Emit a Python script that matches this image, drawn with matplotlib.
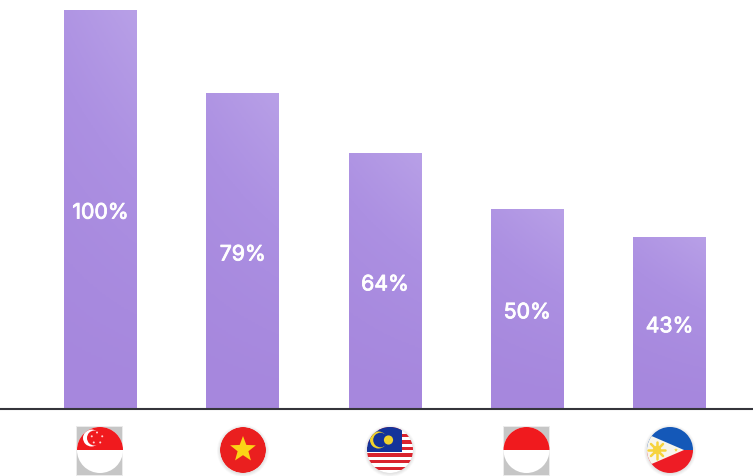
import matplotlib
matplotlib.use("Agg")
import matplotlib.pyplot as plt
import matplotlib.patheffects as pe
from matplotlib.colors import LinearSegmentedColormap
from matplotlib.patches import Circle, Polygon, Rectangle
import numpy as np

# Chart data
countries = ["Singapore", "Vietnam", "Malaysia", "Indonesia", "Philippines"]
shares = [100, 79, 64, 50, 43]

W, H = 753, 477
BASE_Y, TOP_Y = 409.5, 10.5
FLAG_Y, FLAG_R = 451, 23
flag_x = [100, 243, 390, 526.5, 670]

plt.rcParams["font.family"] = ["Inter", "DejaVu Sans"]

fig = plt.figure(figsize=(W / 100, H / 100), dpi=100, facecolor="white")

# Bars live in an axes whose y range 0-100 spans the tallest bar
ax = fig.add_axes([0, 1 - BASE_Y / H, 1, (BASE_Y - TOP_Y) / H])
spacing = 142.25
ax.set_xlim(-100.5 / spacing, 4 + (W - 669.5) / spacing)
ax.set_ylim(0, 100)
ax.axis("off")

cmap = LinearSegmentedColormap.from_list("bar", ["#A687DD", "#AC90E2", "#B8A0E7"])
ramp_y, ramp_x = np.mgrid[0:1:160j, 0:1:40j]
positions = np.arange(len(shares))
bars = ax.bar(positions, shares, width=0.513, color="none", edgecolor="none")

for bar, value in zip(bars, shares):
    x0, w = bar.get_x(), bar.get_width()
    # diagonal shading, lightest in the upper right corner of every bar
    ramp = 0.65 * ramp_y ** 1.4 + 0.35 * ramp_x * ramp_y
    img = ax.imshow(ramp, origin="lower", extent=[x0, x0 + w, 0, value],
                    cmap=cmap, vmin=0, vmax=1.0, aspect="auto", zorder=2)
    img.set_clip_path(bar)
    label = ax.text(x0 + w / 2, value / 2 - 0.9, f"{value}%", color="white", fontsize=15.3,
                    ha="center", va="center", zorder=3)
    # thin stroke gives the labels a medium weight
    label.set_path_effects([pe.withStroke(linewidth=0.6, foreground="white")])

ax.set_xlim(-100.5 / spacing, 4 + (W - 669.5) / spacing)
ax.set_ylim(0, 100)

# Overlay in pixel units for the baseline and the round flags
ov = fig.add_axes([0, 0, 1, 1], facecolor="none")
ov.set_xlim(0, W)
ov.set_ylim(H, 0)
ov.axis("off")
ov.plot([0, W], [BASE_Y, BASE_Y], color="#35353B", lw=1.5, solid_capstyle="butt")


def add(patch, cx):
    ov.add_patch(patch)
    patch.set_clip_path(Circle((cx, FLAG_Y), FLAG_R, transform=ov.transData))
    patch.set_linewidth(0)


def star(cx, cy, r, color, cx_clip):
    ang = np.pi / 2 + np.arange(10) * np.pi / 5
    rad = np.where(np.arange(10) % 2 == 0, r, r * 0.42)
    pts = np.column_stack([cx + rad * np.cos(ang), cy - rad * np.sin(ang)])
    add(Polygon(pts, closed=True, facecolor=color), cx_clip)


def shadow(cx):
    for grow in [3, 2.2, 1.5, 0.8, 0.3]:
        ov.add_patch(Circle((cx, FLAG_Y + 0.8), FLAG_R + grow, facecolor="#666666",
                            alpha=0.035, linewidth=0))


def backing(cx):
    # soft grey square behind the two-band flags
    ov.add_patch(Rectangle((cx - 23.5, FLAG_Y - 24), 47, 50, facecolor="#C6C6C6", alpha=0.35, linewidth=0))
    ov.add_patch(Rectangle((cx - 22.5, FLAG_Y - 23), 45, 48, facecolor="#C6C6C6", linewidth=0))
    ov.add_patch(Circle((cx, FLAG_Y), FLAG_R, facecolor="white", linewidth=0))


RED = "#F01A1E"

# Singapore
cx = flag_x[0]
backing(cx)
add(Rectangle((cx - 24, FLAG_Y - 24), 48, 24, facecolor=RED), cx)
add(Circle((cx - 8.5, FLAG_Y - 12), 8.5, facecolor="white"), cx)
add(Circle((cx - 5.5, FLAG_Y - 12), 7.5, facecolor=RED), cx)
for a in np.pi / 2 + np.arange(5) * 2 * np.pi / 5:
    ov.add_patch(Circle((cx - 3 + 5.5 * np.cos(a), FLAG_Y - 12 - 5.5 * np.sin(a)), 1.0,
                        facecolor="#FFD5D5", linewidth=0))

# Vietnam
cx = flag_x[1]
shadow(cx)
add(Circle((cx, FLAG_Y), FLAG_R, facecolor="#EA1F1F"), cx)
star(cx, FLAG_Y - 0.5, 13.5, "#FBD416", cx)

# Malaysia
cx = flag_x[2]
shadow(cx)
add(Circle((cx, FLAG_Y), FLAG_R, facecolor="white"), cx)
for i in range(7):
    add(Rectangle((cx - 24, FLAG_Y - 23 + i * 6.6), 48, 3.3, facecolor="#D9232E"), cx)
add(Rectangle((cx - 24, FLAG_Y - 24), 36, 26, facecolor="#14339A"), cx)
add(Circle((cx - 11.5, FLAG_Y - 10), 8.5, facecolor="#F2D32B"), cx)
add(Circle((cx - 9.5, FLAG_Y - 10), 7.3, facecolor="#14339A"), cx)
add(Circle((cx - 1.5, FLAG_Y - 10), 4.6, facecolor="#F2D32B"), cx)

# Indonesia
cx = flag_x[3]
backing(cx)
add(Rectangle((cx - 24, FLAG_Y - 24), 48, 24, facecolor=RED), cx)

# Philippines
cx = flag_x[4]
shadow(cx)
add(Rectangle((cx - 24, FLAG_Y - 24), 48, 24, facecolor="#1458B8"), cx)
add(Rectangle((cx - 24, FLAG_Y), 48, 24, facecolor="#EE1C25"), cx)
add(Polygon([(cx + 14, FLAG_Y), (cx - 30, FLAG_Y - 19), (cx - 30, FLAG_Y + 19)],
            closed=True, facecolor="#F7F5EC"), cx)
for a in np.arange(8) * np.pi / 4:
    x1, y1 = cx - 13 + 8.5 * np.cos(a), FLAG_Y - 8.5 * np.sin(a)
    ov.plot([cx - 13, x1], [FLAG_Y, y1], color="#F6D33C", lw=1.8, solid_capstyle="round")
ov.add_patch(Circle((cx - 13, FLAG_Y), 4.2, facecolor="#F6D33C", linewidth=0))
star(cx + 6, FLAG_Y, 2, "#F6D33C", cx)

ov.set_xlim(0, W)
ov.set_ylim(H, 0)

fig.savefig("out.png", dpi=100)
plt.close(fig)
